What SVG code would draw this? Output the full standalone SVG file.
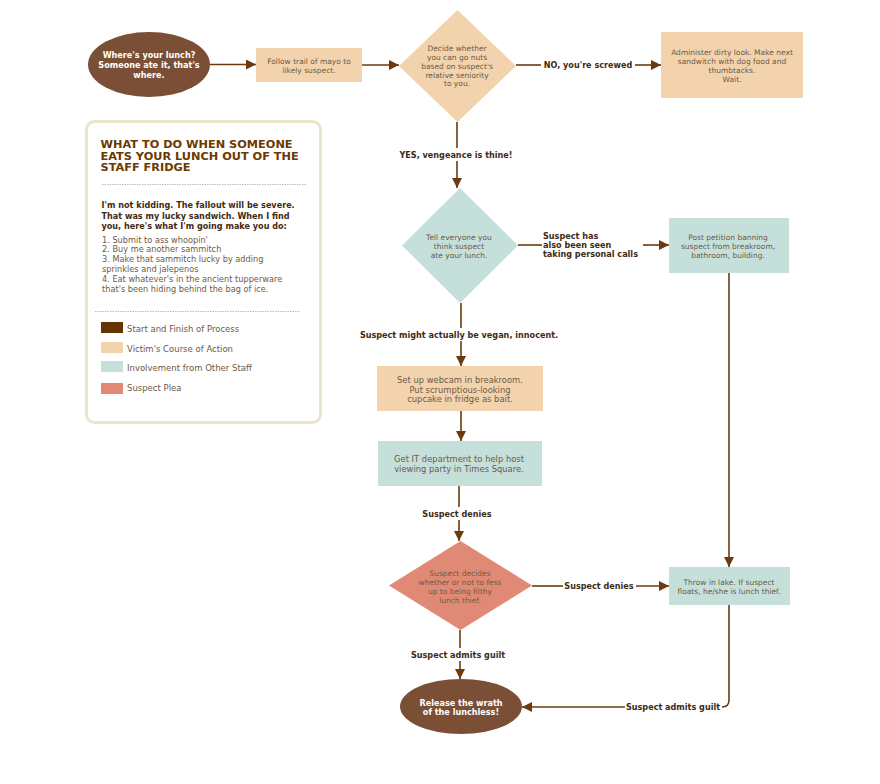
<svg xmlns="http://www.w3.org/2000/svg" width="880" height="784" viewBox="0 0 880 784">
  <defs>
    <marker id="arrow" viewBox="0 0 10 10" refX="10" refY="5" markerWidth="10" markerHeight="10" markerUnits="userSpaceOnUse" orient="auto">
      <path d="M0,0 L10,5 L0,10 Z" fill="#6b3a10"/>
    </marker>
    <style>
      text { font-family: "DejaVu Sans", Verdana, sans-serif; }
      .conn { fill: none; stroke: #6b3a10; stroke-width: 1.6; }
      .lbl { font-size: 8.1px; font-weight: bold; fill: #3f2a14; text-anchor: middle; }
      .ntxt { font-size: 7.5px; fill: #6e5a44; text-anchor: middle; }
      .ntxt2 { font-size: 8.4px; fill: #6e5a44; text-anchor: middle; }
      .etxt { font-size: 8.1px; font-weight: bold; fill: #ffffff; text-anchor: middle; }
      .peach { fill: #f2d3ae; }
      .teal { fill: #c5dfdb; }
      .salmon { fill: #e08a76; }
      .brown { fill: #7a4f36; }
      .legtxt { font-size: 8.5px; fill: #6e5a44; }
      .para { font-size: 8.1px; font-weight: bold; fill: #3f2a14; }
      .item { font-size: 8.2px; fill: #6e5a44; }
      .title { font-size: 11.3px; font-weight: bold; fill: #6b3a00; }
    </style>
  </defs>

  <rect width="880" height="784" fill="#ffffff"/>

  <!-- Legend / notes panel -->
  <g id="legend">
    <rect x="86.5" y="121.5" width="234" height="301" rx="8" fill="#ffffff" stroke="#ede4cc" stroke-width="3"/>
    <text class="title" x="100.5" y="148">WHAT TO DO WHEN SOMEONE</text>
    <text class="title" x="100.5" y="159.5">EATS YOUR LUNCH OUT OF THE</text>
    <text class="title" x="100.5" y="171">STAFF FRIDGE</text>
    <line x1="102" y1="184.5" x2="307" y2="184.5" stroke="#bbbbbb" stroke-width="1" stroke-dasharray="1.5,1"/>
    <text class="para" x="101.5" y="208">I'm not kidding. The fallout will be severe.</text>
    <text class="para" x="101.5" y="218.5">That was my lucky sandwich. When I find</text>
    <text class="para" x="101.5" y="229">you, here's what I'm going make you do:</text>
    <text class="item" x="102" y="242.5">1. Submit to ass whoopin'</text>
    <text class="item" x="102" y="252">2. Buy me another sammitch</text>
    <text class="item" x="102" y="262">3. Make that sammitch lucky by adding</text>
    <text class="item" x="102" y="272">sprinkles and jalepenos</text>
    <text class="item" x="102" y="281.5">4. Eat whatever's in the ancient tupperware</text>
    <text class="item" x="102" y="291.5">that's been hiding behind the bag of ice.</text>
    <line x1="95" y1="311.5" x2="300" y2="311.5" stroke="#bbbbbb" stroke-width="1" stroke-dasharray="1.5,1"/>
    <rect x="101" y="322" width="22" height="11" fill="#673400"/>
    <text class="legtxt" x="127" y="331.5">Start and Finish of Process</text>
    <rect x="101" y="342" width="22" height="11" class="peach"/>
    <text class="legtxt" x="127" y="351.5">Victim's Course of Action</text>
    <rect x="101" y="361" width="22" height="11" class="teal"/>
    <text class="legtxt" x="127" y="370.5">Involvement from Other Staff</text>
    <rect x="101" y="383" width="22" height="11" class="salmon"/>
    <text class="legtxt" x="127" y="391">Suspect Plea</text>
  </g>

  <!-- Connectors -->
  <g id="connectors">
    <path class="conn" d="M210,64.5 H256" marker-end="url(#arrow)"/>
    <path class="conn" d="M362,65 H399" marker-end="url(#arrow)"/>
    <path class="conn" d="M516,65 H541"/>
    <path class="conn" d="M635,65 H661" marker-end="url(#arrow)"/>
    <path class="conn" d="M457,122 V148"/>
    <path class="conn" d="M457,161 V188" marker-end="url(#arrow)"/>
    <path class="conn" d="M518,245 H542"/>
    <path class="conn" d="M643,245 H669" marker-end="url(#arrow)"/>
    <path class="conn" d="M461,303 V328"/>
    <path class="conn" d="M461,341 V366" marker-end="url(#arrow)"/>
    <path class="conn" d="M461,411 V441" marker-end="url(#arrow)"/>
    <path class="conn" d="M459,486 V507"/>
    <path class="conn" d="M459,520 V541" marker-end="url(#arrow)"/>
    <path class="conn" d="M532,586 H563"/>
    <path class="conn" d="M636,586 H669" marker-end="url(#arrow)"/>
    <path class="conn" d="M729,273 V567" marker-end="url(#arrow)"/>
    <path class="conn" d="M460,630 V648"/>
    <path class="conn" d="M460,661 V679" marker-end="url(#arrow)"/>
    <path class="conn" d="M729,605 V700 Q729,707 722,707"/>
    <path class="conn" d="M625,707 H522" marker-end="url(#arrow)"/>

    <text class="lbl" x="588" y="68">NO, you're screwed</text>
    <text class="lbl" x="456" y="158">YES, vengeance is thine!</text>
    <text class="lbl" x="543" y="238.5" style="text-anchor:start">Suspect has</text>
    <text class="lbl" x="543" y="247.5" style="text-anchor:start">also been seen</text>
    <text class="lbl" x="543" y="256.5" style="text-anchor:start">taking personal calls</text>
    <text class="lbl" x="459" y="338">Suspect might actually be vegan, innocent.</text>
    <text class="lbl" x="457" y="517">Suspect denies</text>
    <text class="lbl" x="599" y="589">Suspect denies</text>
    <text class="lbl" x="458" y="658">Suspect admits guilt</text>
    <text class="lbl" x="673" y="710">Suspect admits guilt</text>
  </g>

  <!-- Nodes -->
  <g id="start">
    <ellipse cx="149" cy="64.5" rx="61" ry="32.5" class="brown"/>
    <text class="etxt" x="149" y="58">Where's your lunch?</text>
    <text class="etxt" x="149" y="68">Someone ate it, that's</text>
    <text class="etxt" x="149" y="78">where.</text>
  </g>

  <g id="follow-trail">
    <rect x="256" y="48" width="106" height="34" class="peach"/>
    <text class="ntxt" x="309" y="63.5">Follow trail of mayo to</text>
    <text class="ntxt" x="309" y="72.5">likely suspect.</text>
  </g>

  <g id="decide-seniority">
    <path d="M457.5,10 L516,66 L457.5,122 L399,66 Z" class="peach"/>
    <text class="ntxt" x="457" y="50.5">Decide whether</text>
    <text class="ntxt" x="457" y="59.5">you can go nuts</text>
    <text class="ntxt" x="457" y="68.5">based on suspect's</text>
    <text class="ntxt" x="457" y="77.5">relative seniority</text>
    <text class="ntxt" x="457" y="86">to you.</text>
  </g>

  <g id="dirty-look">
    <rect x="661" y="32" width="142" height="66" class="peach"/>
    <text class="ntxt" x="732" y="54.5">Administer dirty look. Make next</text>
    <text class="ntxt" x="732" y="63.5">sandwitch with dog food and</text>
    <text class="ntxt" x="732" y="72.5">thumbtacks.</text>
    <text class="ntxt" x="732" y="81.5">Wait.</text>
  </g>

  <g id="tell-everyone">
    <path d="M460,188 L518,245.5 L460,303 L402,245.5 Z" class="teal"/>
    <text class="ntxt" x="459" y="239.5">Tell everyone you</text>
    <text class="ntxt" x="459" y="248.5">think suspect</text>
    <text class="ntxt" x="459" y="257.5">ate your lunch.</text>
  </g>

  <g id="petition">
    <rect x="669" y="218" width="120" height="55" class="teal"/>
    <text class="ntxt" x="728" y="239.5">Post petition banning</text>
    <text class="ntxt" x="728" y="248.5">suspect from breakroom,</text>
    <text class="ntxt" x="728" y="257.5">bathroom, building.</text>
  </g>

  <g id="webcam">
    <rect x="377" y="366" width="166" height="45" class="peach"/>
    <text class="ntxt2" x="460" y="383">Set up webcam in breakroom.</text>
    <text class="ntxt2" x="460" y="392.5">Put scrumptious-looking</text>
    <text class="ntxt2" x="460" y="402">cupcake in fridge as bait.</text>
  </g>

  <g id="it-department">
    <rect x="378" y="441" width="164" height="45" class="teal"/>
    <text class="ntxt2" x="459" y="462">Get IT department to help host</text>
    <text class="ntxt2" x="459" y="472">viewing party in Times Square.</text>
  </g>

  <g id="suspect-decides">
    <path d="M460.5,541 L532,585.5 L460.5,630 L389,585.5 Z" class="salmon"/>
    <text class="ntxt" x="460" y="575.5">Suspect decides</text>
    <text class="ntxt" x="460" y="584.5">whether or not to fess</text>
    <text class="ntxt" x="460" y="593.5">up to being filthy</text>
    <text class="ntxt" x="460" y="602.5">lunch thief.</text>
  </g>

  <g id="throw-in-lake">
    <rect x="669" y="567" width="121" height="38" class="teal"/>
    <text class="ntxt" x="729" y="584.5">Throw in lake. If suspect</text>
    <text class="ntxt" x="729" y="593.5">floats, he/she is lunch thief.</text>
  </g>

  <g id="finish">
    <ellipse cx="461" cy="706.5" rx="61" ry="27.5" class="brown"/>
    <text class="etxt" x="461" y="705.5">Release the wrath</text>
    <text class="etxt" x="461" y="714.5">of the lunchless!</text>
  </g>
</svg>
